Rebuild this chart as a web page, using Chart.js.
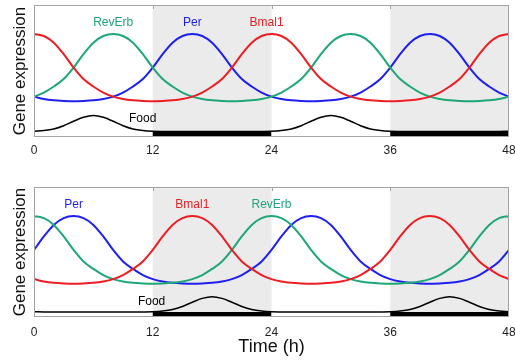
<!DOCTYPE html>
<html>
<head>
<meta charset="utf-8">
<script src="https://cdn.jsdelivr.net/npm/chart.js@4"></script>
<style>
  html, body { margin: 0; padding: 0; background: #ffffff; }
  #wrap { position: relative; width: 515px; height: 360px; overflow: hidden; }
  canvas { position: absolute; left: 0; }
</style>
</head>
<body>
<div id="wrap">
  <canvas id="top" width="515" height="170" style="top:0px"></canvas>
  <canvas id="bot" width="515" height="190" style="top:170px"></canvas>
</div>
<script>
// ---- data (hours 0..48) ----
const hours = [0,1,2,3,4,5,6,7,8,9,10,11,12,13,14,15,16,17,18,19,20,21,22,23,24,25,26,27,28,29,30,31,32,33,34,35,36,37,38,39,40,41,42,43,44,45,46,47,48];
const xTicks = [0, 12, 24, 36, 48];
const nightStarts = [12, 36];

// top panel
const topBmal1 = [1.00,0.97,0.87,0.70,0.50,0.33,0.22,0.13,0.07,0.035,0.015,0.005,0.00,0.005,0.015,0.035,0.07,0.13,0.22,0.33,0.50,0.70,0.87,0.97,1.00,0.97,0.87,0.70,0.50,0.33,0.22,0.13,0.07,0.035,0.015,0.005,0.00,0.005,0.015,0.035,0.07,0.13,0.22,0.33,0.50,0.70,0.87,0.97,1.00];
const topRevErb = [0.07,0.13,0.22,0.33,0.50,0.70,0.87,0.97,1.00,0.97,0.87,0.70,0.50,0.33,0.22,0.13,0.07,0.035,0.015,0.005,0.00,0.005,0.015,0.035,0.07,0.13,0.22,0.33,0.50,0.70,0.87,0.97,1.00,0.97,0.87,0.70,0.50,0.33,0.22,0.13,0.07,0.035,0.015,0.005,0.00,0.005,0.015,0.035,0.07];
const topPer = [0.07,0.035,0.015,0.005,0.00,0.005,0.015,0.035,0.07,0.13,0.22,0.33,0.50,0.70,0.87,0.97,1.00,0.97,0.87,0.70,0.50,0.33,0.22,0.13,0.07,0.035,0.015,0.005,0.00,0.005,0.015,0.035,0.07,0.13,0.22,0.33,0.50,0.70,0.87,0.97,1.00,0.97,0.87,0.70,0.50,0.33,0.22,0.13,0.07];
const topFood = [0.015,0.06,0.16,0.36,0.64,0.89,1.00,0.89,0.64,0.36,0.16,0.06,0.015,0.004,0,0,0,0,0,0,0,0,0,0.004,0.015,0.06,0.16,0.36,0.64,0.89,1.00,0.89,0.64,0.36,0.16,0.06,0.015,0.004,0,0,0,0,0,0,0,0,0,0.004,0.015];

// bottom panel
const botBmal1 = [0.07,0.035,0.015,0.005,0.00,0.005,0.015,0.035,0.07,0.13,0.22,0.33,0.50,0.70,0.87,0.97,1.00,0.97,0.87,0.70,0.50,0.33,0.22,0.13,0.07,0.035,0.015,0.005,0.00,0.005,0.015,0.035,0.07,0.13,0.22,0.33,0.50,0.70,0.87,0.97,1.00,0.97,0.87,0.70,0.50,0.33,0.22,0.13,0.07];
const botRevErb = [1.00,0.97,0.87,0.70,0.50,0.33,0.22,0.13,0.07,0.035,0.015,0.005,0.00,0.005,0.015,0.035,0.07,0.13,0.22,0.33,0.50,0.70,0.87,0.97,1.00,0.97,0.87,0.70,0.50,0.33,0.22,0.13,0.07,0.035,0.015,0.005,0.00,0.005,0.015,0.035,0.07,0.13,0.22,0.33,0.50,0.70,0.87,0.97,1.00];
const botPer = [0.50,0.70,0.87,0.97,1.00,0.97,0.87,0.70,0.50,0.33,0.22,0.13,0.07,0.035,0.015,0.005,0.00,0.005,0.015,0.035,0.07,0.13,0.22,0.33,0.50,0.70,0.87,0.97,1.00,0.97,0.87,0.70,0.50,0.33,0.22,0.13,0.07,0.035,0.015,0.005,0.00,0.005,0.015,0.035,0.07,0.13,0.22,0.33,0.50];
const botFood = [0.015,0.004,0,0,0,0,0,0,0,0,0,0.004,0.015,0.06,0.16,0.36,0.64,0.89,1.00,0.89,0.64,0.36,0.16,0.06,0.015,0.004,0,0,0,0,0,0,0,0,0,0.004,0.015,0.06,0.16,0.36,0.64,0.89,1.00,0.89,0.64,0.36,0.16,0.06,0.015];

const FONT = "'Liberation Sans', Arial, Helvetica, sans-serif";
const RED = '#ee1d23', BLUE = '#1f1ff0', GREEN = '#1ea777', BLACK = '#000000';

const panelPlugin = {
  id: 'panel',
  beforeDatasetsDraw(chart, args, opts) {
    const {ctx, chartArea: a, scales} = chart;
    const x = scales.x, yf = scales.yFood;
    ctx.save();
    ctx.fillStyle = '#ebebeb';
    nightStarts.forEach(s => {
      const x0 = x.getPixelForValue(s), x1 = x.getPixelForValue(s + 12);
      ctx.fillRect(x0, a.top, x1 - x0, a.bottom - a.top);
    });
    // light/dark bar under the food curve
    const barTop = yf.getPixelForValue(0);
    for (let s = 0; s < 48; s += 12) {
      const night = nightStarts.includes(s);
      const x0 = x.getPixelForValue(s), x1 = x.getPixelForValue(s + 12);
      ctx.fillStyle = night ? '#000000' : '#ffffff';
      ctx.fillRect(x0, barTop, x1 - x0, a.bottom - barTop);
    }
    ctx.restore();
  },
  afterDatasetsDraw(chart, args, opts) {
    const {ctx, chartArea: a, scales} = chart;
    const x = scales.x;
    ctx.save();
    ctx.strokeStyle = '#a3a3a3';
    ctx.lineWidth = 1;
    ctx.strokeRect(Math.round(a.left) + 0.5, Math.round(a.top) + 0.5, Math.round(a.right - a.left) - 1, Math.round(a.bottom - a.top) - 1);
    [12, 24, 36].forEach(v => {
      const px = Math.round(x.getPixelForValue(v)) + 0.5;
      ctx.beginPath();
      ctx.moveTo(px, a.top);
      ctx.lineTo(px, a.top + 4);
      ctx.stroke();
    });
    ctx.textAlign = 'center';
    ctx.textBaseline = 'middle';
    ctx.font = '12px ' + FONT;
    (opts.labels || []).forEach(l => {
      const sc = scales[l.axis];
      ctx.fillStyle = l.color;
      ctx.textAlign = l.align || 'center';
      ctx.fillText(l.text, x.getPixelForValue(l.x), sc.getPixelForValue(l.y));
    });
    ctx.restore();
  }
};

function makePanel(id, series, food, cfg) {
  const ds = series.map(s => ({
    label: s.name, data: s.data, borderColor: s.color, borderWidth: 2,
    pointRadius: 0, cubicInterpolationMode: 'monotone', yAxisID: 'y', fill: false
  }));
  ds.push({label: 'Food', data: food, borderColor: BLACK, borderWidth: 1.5,
    pointRadius: 0, cubicInterpolationMode: 'monotone', yAxisID: 'yFood', fill: false});
  return new Chart(document.getElementById(id), {
    type: 'line',
    data: {labels: hours, datasets: ds},
    options: {
      responsive: false, animation: false, devicePixelRatio: 1,
      layout: {padding: {top: cfg.padTop, right: 6, left: 0, bottom: 0}},
      plugins: {legend: {display: false}, tooltip: {enabled: false}, panel: {labels: cfg.labels}},
      scales: {
        x: {
          type: 'linear', min: 0, max: 48,
          grid: {display: false, drawTicks: false}, border: {display: false},
          ticks: {stepSize: 12, padding: cfg.tickPad, color: '#222', font: {size: 12, family: FONT},
                  maxRotation: 0, autoSkip: false},
          afterBuildTicks: s => { s.ticks = xTicks.map(v => ({value: v})); },
          title: {display: !!cfg.xTitle, text: cfg.xTitle || '', color: '#111',
                  font: {size: 18, family: FONT}, padding: {top: 0, bottom: 2}},
          afterFit: s => { s.height = cfg.xHeight; s.paddingLeft = 0; s.paddingRight = 0; }
        },
        y: {
          min: cfg.yMin, max: 1.43,
          grid: {display: false, drawTicks: false}, border: {display: false},
          ticks: {display: false},
          title: {display: true, text: 'Gene expression', color: '#111',
                  font: {size: 17, family: FONT}, padding: {top: 10, bottom: 0}},
          afterFit: s => { s.width = 34; }
        },
        yFood: {
          display: false, min: cfg.foodMin, max: cfg.foodMax
        }
      }
    },
    plugins: [panelPlugin]
  });
}

makePanel('top', [
  {name: 'Bmal1', data: topBmal1, color: RED},
  {name: 'RevErb', data: topRevErb, color: GREEN},
  {name: 'Per', data: topPer, color: BLUE}
], topFood, {
  padTop: 5, xHeight: 33, tickPad: 6, yMin: -0.53, foodMin: -0.344, foodMax: 7.906,
  labels: [
    {text: 'RevErb', x: 8, y: 1.163, axis: 'y', color: GREEN},
    {text: 'Per', x: 16, y: 1.163, axis: 'y', color: BLUE},
    {text: 'Bmal1', x: 23.5, y: 1.163, axis: 'y', color: RED},
    {text: 'Food', x: 9.6, y: 0.78, axis: 'yFood', color: BLACK, align: 'left'}
  ]
});

makePanel('bot', [
  {name: 'Bmal1', data: botBmal1, color: RED},
  {name: 'RevErb', data: botRevErb, color: GREEN},
  {name: 'Per', data: botPer, color: BLUE}
], botFood, {
  padTop: 17, xHeight: 43, tickPad: 8, yMin: -0.49, foodMin: -0.327, foodMax: 8.17, xTitle: 'Time (h)',
  labels: [
    {text: 'Per', x: 4, y: 1.176, axis: 'y', color: BLUE},
    {text: 'Bmal1', x: 16, y: 1.176, axis: 'y', color: RED},
    {text: 'RevErb', x: 24, y: 1.176, axis: 'y', color: GREEN},
    {text: 'Food', x: 10.5, y: 0.67, axis: 'yFood', color: BLACK, align: 'left'}
  ]
});
</script>
</body>
</html>
